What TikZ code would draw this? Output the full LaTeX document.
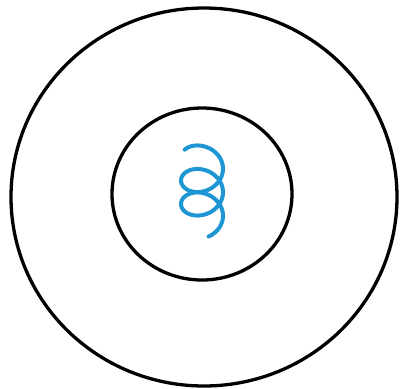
\documentclass[tikz,border=0pt]{standalone}
\definecolor{coilblue}{RGB}{30,150,212}
\begin{document}
\begin{tikzpicture}[x=1pt,y=-1pt,
  ring/.style={draw=black, line width=3.3pt},
  coil/.style={draw=coilblue, line width=4pt, line cap=round, line join=round}]
\useasboundingbox (0,0) rectangle (400,389);
\coordinate (c) at (204,197);
\coordinate (ic) at (202,194);
\draw[ring] (c) ellipse [x radius=193, y radius=189];
\draw[ring] (ic) ellipse [x radius=90, y radius=86];
\draw[coil] plot[domain=0.6:16.96, samples=240, variable=\t]
  ({202-21*cos(\t r)}, {157-17*sin(\t r)+23.5*\t/(2*pi)});
\end{tikzpicture}
\end{document}
